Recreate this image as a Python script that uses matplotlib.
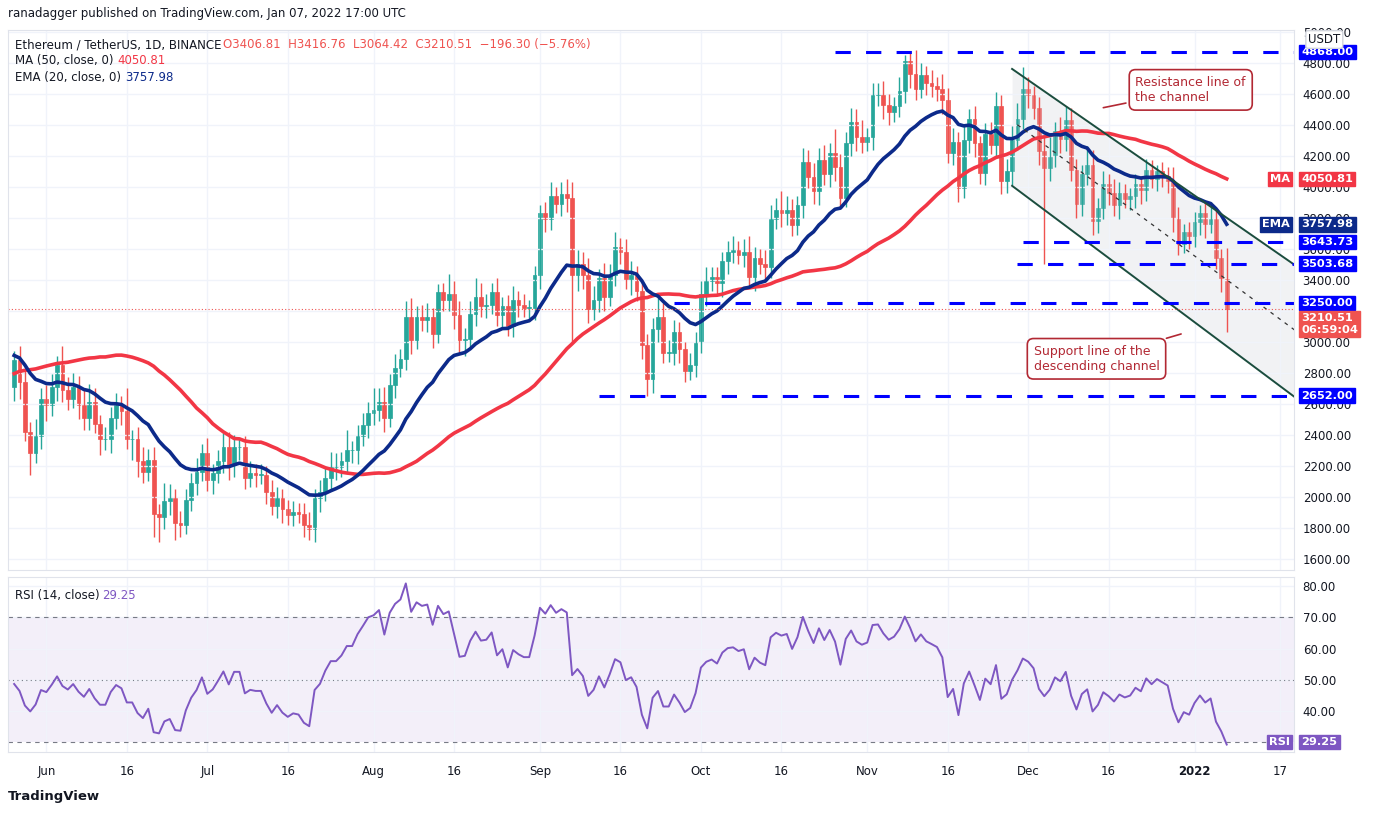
import matplotlib
matplotlib.use("Agg")
import matplotlib.pyplot as plt
import numpy as np
import pandas as pd
from matplotlib.patches import Rectangle

plt.rcParams['font.family'] = ['DejaVu Sans']

# earlier closes (Apr 6 - May 25 2021), only used to warm up the indicators
prior_closes = [2110, 2000, 2090, 2070, 2140, 2150, 2140, 2300, 2430, 2510, 2420, 2340, 2240,
                2160, 2330, 2360, 2120, 2370, 2220, 2310, 2530, 2660, 2750, 2760, 2770, 2950,
                2950, 3430, 3250, 3520, 3490, 3490, 3900, 3950, 4170, 3790, 3720, 4080, 3610,
                3580, 3280, 3380, 2440, 2780, 2430, 2300, 2100, 2640, 2710, 2710]

# visible daily closes, May 26 2021 - Jan 7 2022
closes = [
    2880, 2740, 2420, 2280, 2390, 2630,
    2590, 2710, 2850, 2690, 2630, 2710, 2590, 2510, 2610, 2470, 2370, 2370, 2510, 2590, 2550,
    2370, 2370, 2230, 2160, 2240, 1890, 1870, 1970, 1990, 1830, 1820, 1980, 2090, 2160, 2280,
    2110, 2150, 2230, 2320, 2200, 2320, 2320, 2120, 2150, 2140, 2140, 2030, 1940, 1990, 1920,
    1880, 1900, 1890, 1820, 1790, 1990, 2030, 2120, 2190, 2190, 2230, 2300, 2300, 2390, 2460, 2540,
    2560, 2610, 2510, 2720, 2830, 2890, 3160, 3010, 3160, 3140, 3160, 3050, 3320, 3270, 3310,
    3170, 3010, 3020, 3180, 3290, 3230, 3240, 3320, 3170, 3230, 3100, 3270, 3240, 3220, 3220, 3430,
    3830, 3790, 3940, 3890, 3950, 3930, 3430, 3500, 3430, 3210, 3270, 3410, 3290, 3430, 3610,
    3580, 3400, 3430, 3330, 2980, 2760, 3080, 3160, 2930, 2930, 3060, 2950, 2810, 2850, 3000,
    3310, 3390, 3420, 3380, 3520, 3580, 3590, 3560, 3580, 3420, 3540, 3500, 3480, 3790, 3850,
    3830, 3850, 3750, 3880, 4160, 4060, 3970, 4170, 4080, 4220, 4130, 3930, 4280, 4420, 4320, 4290,
    4320, 4590, 4600, 4530, 4480, 4520, 4620, 4810, 4730, 4630, 4720, 4670, 4650, 4630, 4560,
    4220, 4290, 3990, 4300, 4440, 4280, 4090, 4340, 4270, 4520, 4040, 4100, 4300, 4440, 4630,
    4590, 4510, 4230, 4120, 4200, 4360, 4310, 4430, 4110, 3890, 4080, 4140, 3780, 3860, 4020,
    3960, 3880, 3960, 3920, 3940, 4020, 3980, 4110, 4050, 4100, 4070, 4040, 3800, 3630, 3710, 3680,
    3770, 3830, 3760, 3790, 3540, 3410, 3210.51,
]

# upper / lower wick lengths in dollars beyond the candle body
wick_up = [
    60, 90, 80, 60, 110, 70,
    90, 80, 60, 120, 80, 90, 70, 100, 120, 90, 60, 80, 70, 80, 60,
    150, 60, 80, 90, 70, 80, 60, 120, 90, 60, 80, 70, 60, 90, 60,
    100, 60, 70, 90, 100, 80, 60, 70, 80, 60, 70, 60, 80, 70, 60,
    60, 70, 60, 70, 80, 60, 80, 70, 100, 90, 60, 130, 60, 70, 80, 70,
    140, 90, 100, 70, 90, 60, 100, 120, 70, 80, 90, 60, 50, 60, 130,
    80, 90, 70, 80, 120, 90, 70, 60, 90, 60, 70, 90, 60, 70, 50, 60,
    50, 70, 90, 60, 80, 100, 100, 90, 80, 110, 90, 60, 100, 70, 100,
    60, 80, 90, 60, 60, 70, 70, 120, 90, 80, 80, 70, 50, 80, 60,
    80, 90, 60, 60, 60, 70, 90, 60, 80, 100, 70, 60, 90, 90, 80,
    120, 90, 70, 60, 90, 80, 90, 80, 100, 60, 150, 80, 70, 90, 80, 110,
    60, 80, 70, 80, 70, 60, 90, 40, 60, 150, 80, 60, 80, 60, 100,
    80, 90, 60, 100, 60, 80, 50, 70, 80, 90, 70, 80, 90, 100, 140,
    80, 60, 70, 90, 120, 60, 90, 90, 80, 70, 60, 120, 100, 70, 80,
    60, 90, 70, 60, 50, 60, 50, 70, 60, 40, 60, 60, 90, 70, 50, 60,
    70, 50, 70, 110, 60, 60, 200,
]
wick_dn = [
    90, 110, 60, 140, 60, 80,
    100, 70, 90, 80, 70, 60, 90, 80, 80, 60, 100, 70, 90, 70, 90,
    60, 130, 100, 70, 60, 150, 160, 80, 90, 110, 80, 60, 70, 80, 60,
    70, 90, 60, 80, 90, 70, 80, 70, 60, 80, 60, 80, 60, 80, 90,
    60, 70, 60, 80, 70, 80, 90, 60, 70, 80, 60, 70, 80, 90, 60, 80,
    80, 70, 90, 60, 80, 60, 70, 90, 60, 70, 80, 90, 60, 70, 70,
    90, 80, 100, 60, 80, 70, 80, 60, 70, 90, 60, 70, 80, 60, 70, 80,
    90, 80, 70, 60, 80, 90, 430, 100, 90, 90, 70, 80, 90, 60, 70,
    80, 60, 100, 70, 90, 110, 90, 80, 70, 60, 80, 90, 70, 60, 80,
    70, 80, 60, 70, 90, 80, 70, 60, 80, 70, 90, 60, 80, 70, 60,
    90, 80, 70, 60, 80, 70, 80, 90, 70, 80, 90, 70, 60, 80, 90, 70,
    60, 80, 70, 90, 80, 60, 70, 80, 90, 70, 60, 80, 70, 80, 90,
    70, 80, 90, 60, 80, 90, 70, 80, 60, 70, 90, 80, 90, 60, 70,
    80, 70, 90, 620, 80, 70, 90, 80, 70, 90, 80, 70, 90, 80, 70,
    80, 70, 90, 60, 70, 80, 90, 70, 60, 80, 70, 80, 90, 70, 60, 80,
    70, 80, 90, 60, 70, 90, 145,
]

levels = [4868.00, 3643.73, 3503.68, 3250.00, 2652.00]
level_start_days = [147, 182, 181, 117, 103]
x_labels = ["Jun", "16", "Jul", "16", "Aug", "16", "Sep", "16", "Oct", "16", "Nov", "16",
            "Dec", "16", "2022", "17"]
x_label_days = [0, 15, 30, 45, 61, 76, 92, 107, 122, 137, 153, 168, 183, 198, 214, 230]

UP = "#26a69a"
DOWN = "#ef5350"
EMA_COLOR = "#0c2a8a"
MA_COLOR = "#f23645"
LEVEL_BLUE = "#0000ff"
RSI_COLOR = "#7e57c2"
GRID = "#f0f3fa"

# indicators
all_closes = pd.Series(prior_closes + closes, dtype=float)
ma50 = all_closes.rolling(50, min_periods=1).mean().values[len(prior_closes):]
ema20 = all_closes.ewm(span=20, adjust=False).mean().values[len(prior_closes):]
delta = all_closes.diff()
gain = delta.clip(lower=0).ewm(alpha=1 / 14, adjust=False).mean()
loss = (-delta.clip(upper=0)).ewm(alpha=1 / 14, adjust=False).mean()
rsi = (100 - 100 / (1 + gain / loss)).values[len(prior_closes):]

n = len(closes)
days = np.arange(n) - 6  # day 0 = Jun 1
opens = np.array([prior_closes[-1]] + closes[:-1], dtype=float)
opens[-1] = 3406.81
c = np.array(closes, dtype=float)
highs = np.maximum(opens, c) + np.array(wick_up[:n])
lows = np.minimum(opens, c) - np.array(wick_dn[:n])

fig = plt.figure(figsize=(13.74, 8.16), dpi=100)
ax = fig.add_axes([0.006, 0.302, 0.936, 0.661])
rax = fig.add_axes([0.006, 0.079, 0.936, 0.214], sharex=ax)

# candles
for d, o, h, l, cl in zip(days, opens, highs, lows, c):
    col = UP if cl >= o else DOWN
    ax.vlines(d, l, h, color=col, linewidth=1)
    ax.add_patch(Rectangle((d - 0.35, min(o, cl)), 0.7, max(abs(cl - o), 4),
                           facecolor=col, edgecolor=col, linewidth=0.5))

ax.plot(days, ma50, color=MA_COLOR, linewidth=2.6)
ax.plot(days, ema20, color=EMA_COLOR, linewidth=2.6)

# descending channel
ch_x = [180, 232.6]
upper = [4760, 3497]
lower = [4006, 2645]
ax.fill_between(ch_x, lower, upper, color="#d1d4dc", alpha=0.3, linewidth=0)
ax.plot(ch_x, upper, color="#1b4d3e", linewidth=1.4)
ax.plot(ch_x, lower, color="#1b4d3e", linewidth=1.4)
ax.plot([181, 232.6], [4400, 3077], color="#333333", linewidth=0.9, linestyle=(0, (3, 4)))

for lv, sd in zip(levels, level_start_days):
    ax.plot([sd, 240], [lv, lv], color=LEVEL_BLUE, linewidth=2.2, linestyle=(0, (5, 5)))
ax.axhline(closes[-1], color=DOWN, linewidth=0.8, linestyle=(0, (1, 2)))

ax.set_xlim(-7.1, 232.6)
ax.set_ylim(1530, 5010)
ax.yaxis.tick_right()
ticks = np.arange(1600, 5001, 200)
ax.set_yticks(ticks)
ax.set_yticklabels([f"{v:.2f}" for v in ticks], fontsize=8.5, color="#131722")
ax.tick_params(axis="y", length=0, pad=6)
ax.tick_params(axis="x", length=0, labelbottom=False)
ax.grid(True, color=GRID, linewidth=1)
for s in ax.spines.values():
    s.set_color("#e0e3eb")


# right-side price tags
def tag(axis, y, text, bg, name=None):
    axis.annotate(text, xy=(1.0, y), xycoords=("axes fraction", "data"), xytext=(5, 0),
                  textcoords="offset points", va="center", ha="left", fontsize=8.2,
                  color="white", fontweight="bold",
                  bbox=dict(boxstyle="square,pad=0.2", facecolor=bg, edgecolor=bg))
    if name:
        axis.annotate(name, xy=(1.0, y), xycoords=("axes fraction", "data"), xytext=(-3, 0),
                      textcoords="offset points", va="center", ha="right", fontsize=8.2,
                      color="white", fontweight="bold",
                      bbox=dict(boxstyle="square,pad=0.2", facecolor=bg, edgecolor=bg))


tag(ax, 4868, "4868.00", LEVEL_BLUE)
tag(ax, ma50[-1], f"{ma50[-1]:.2f}", MA_COLOR, name="MA")
tag(ax, ema20[-1], f"{ema20[-1]:.2f}", EMA_COLOR, name="EMA")
tag(ax, 3643.73, "3643.73", LEVEL_BLUE)
tag(ax, 3503.68, "3503.68", LEVEL_BLUE)
tag(ax, 3250.00, "3250.00", LEVEL_BLUE)
tag(ax, 3115, "3210.51\n06:59:04", DOWN)
tag(ax, 2652.00, "2652.00", LEVEL_BLUE)
ax.annotate("USDT", xy=(1.0, 4950), xycoords=("axes fraction", "data"), xytext=(10, 0),
            textcoords="offset points", va="center", fontsize=8.5, color="#131722",
            bbox=dict(boxstyle="round,pad=0.2", facecolor="white", edgecolor="#d1d4dc"))

# callouts
box_kw = dict(boxstyle="round,pad=0.5", facecolor="white", edgecolor="#b22833", linewidth=1.2)
ax.annotate("Resistance line of\nthe channel", xy=(197, 4510), xytext=(203, 4625),
            fontsize=9, color="#b22833", va="center", bbox=box_kw,
            arrowprops=dict(arrowstyle="-", color="#b22833", lw=1.2, shrinkB=0))
ax.annotate("Support line of the\ndescending channel", xy=(211.5, 3050), xytext=(184, 2890),
            fontsize=9, color="#b22833", va="center", bbox=box_kw,
            arrowprops=dict(arrowstyle="-", color="#b22833", lw=1.2, shrinkB=0))

# header
fig.text(0.006, 0.992, "ranadagger published on TradingView.com, Jan 07, 2022 17:00 UTC",
         fontsize=8.5, color="#131722", va="top")
ax.text(0.005, 0.985, "Ethereum / TetherUS, 1D, BINANCE", transform=ax.transAxes,
        fontsize=8.5, color="#131722", va="top")
ax.text(0.167, 0.985, "O3406.81  H3416.76  L3064.42  C3210.51  −196.30 (−5.76%)",
        transform=ax.transAxes, fontsize=8.5, color=DOWN, va="top")
ax.text(0.005, 0.955, "MA (50, close, 0)", transform=ax.transAxes, fontsize=8.5,
        color="#131722", va="top")
ax.text(0.085, 0.955, f"{ma50[-1]:.2f}", transform=ax.transAxes, fontsize=8.5,
        color=MA_COLOR, va="top")
ax.text(0.005, 0.925, "EMA (20, close, 0)", transform=ax.transAxes, fontsize=8.5,
        color="#131722", va="top")
ax.text(0.091, 0.925, f"{ema20[-1]:.2f}", transform=ax.transAxes, fontsize=8.5,
        color=EMA_COLOR, va="top")

# RSI pane
rax.axhspan(30, 70, color=RSI_COLOR, alpha=0.09, linewidth=0)
for lv, ls in [(70, (0, (4, 4))), (50, (0, (1, 3))), (30, (0, (4, 4)))]:
    rax.axhline(lv, color="#787b86", linewidth=0.8, linestyle=ls)
rax.plot(days, rsi, color=RSI_COLOR, linewidth=1.4)
rax.set_ylim(27, 83)
rax.yaxis.tick_right()
rax.set_yticks([40, 50, 60, 70, 80])
rax.set_yticklabels(["40.00", "50.00", "60.00", "70.00", "80.00"], fontsize=8.5, color="#131722")
rax.tick_params(axis="y", length=0, pad=6)
rax.grid(True, color=GRID, linewidth=1)
rax.set_xticks(x_label_days)
rax.set_xticklabels(x_labels, fontsize=8.5, color="#131722")
for lab in rax.get_xticklabels():
    if lab.get_text() == "2022":
        lab.set_fontweight("bold")
rax.tick_params(axis="x", length=0, pad=10)
for s in rax.spines.values():
    s.set_color("#e0e3eb")
rax.text(0.005, 0.93, "RSI (14, close)", transform=rax.transAxes, fontsize=8.5,
         color="#131722", va="top")
rax.text(0.073, 0.93, f"{rsi[-1]:.2f}", transform=rax.transAxes, fontsize=8.5,
         color=RSI_COLOR, va="top")
tag(rax, 30, f"{rsi[-1]:.2f}", RSI_COLOR, name="RSI")

fig.text(0.006, 0.02, "TradingView", fontsize=9.5, color="#131722", fontweight="bold")

fig.savefig("out.png", dpi=100, facecolor="white")
